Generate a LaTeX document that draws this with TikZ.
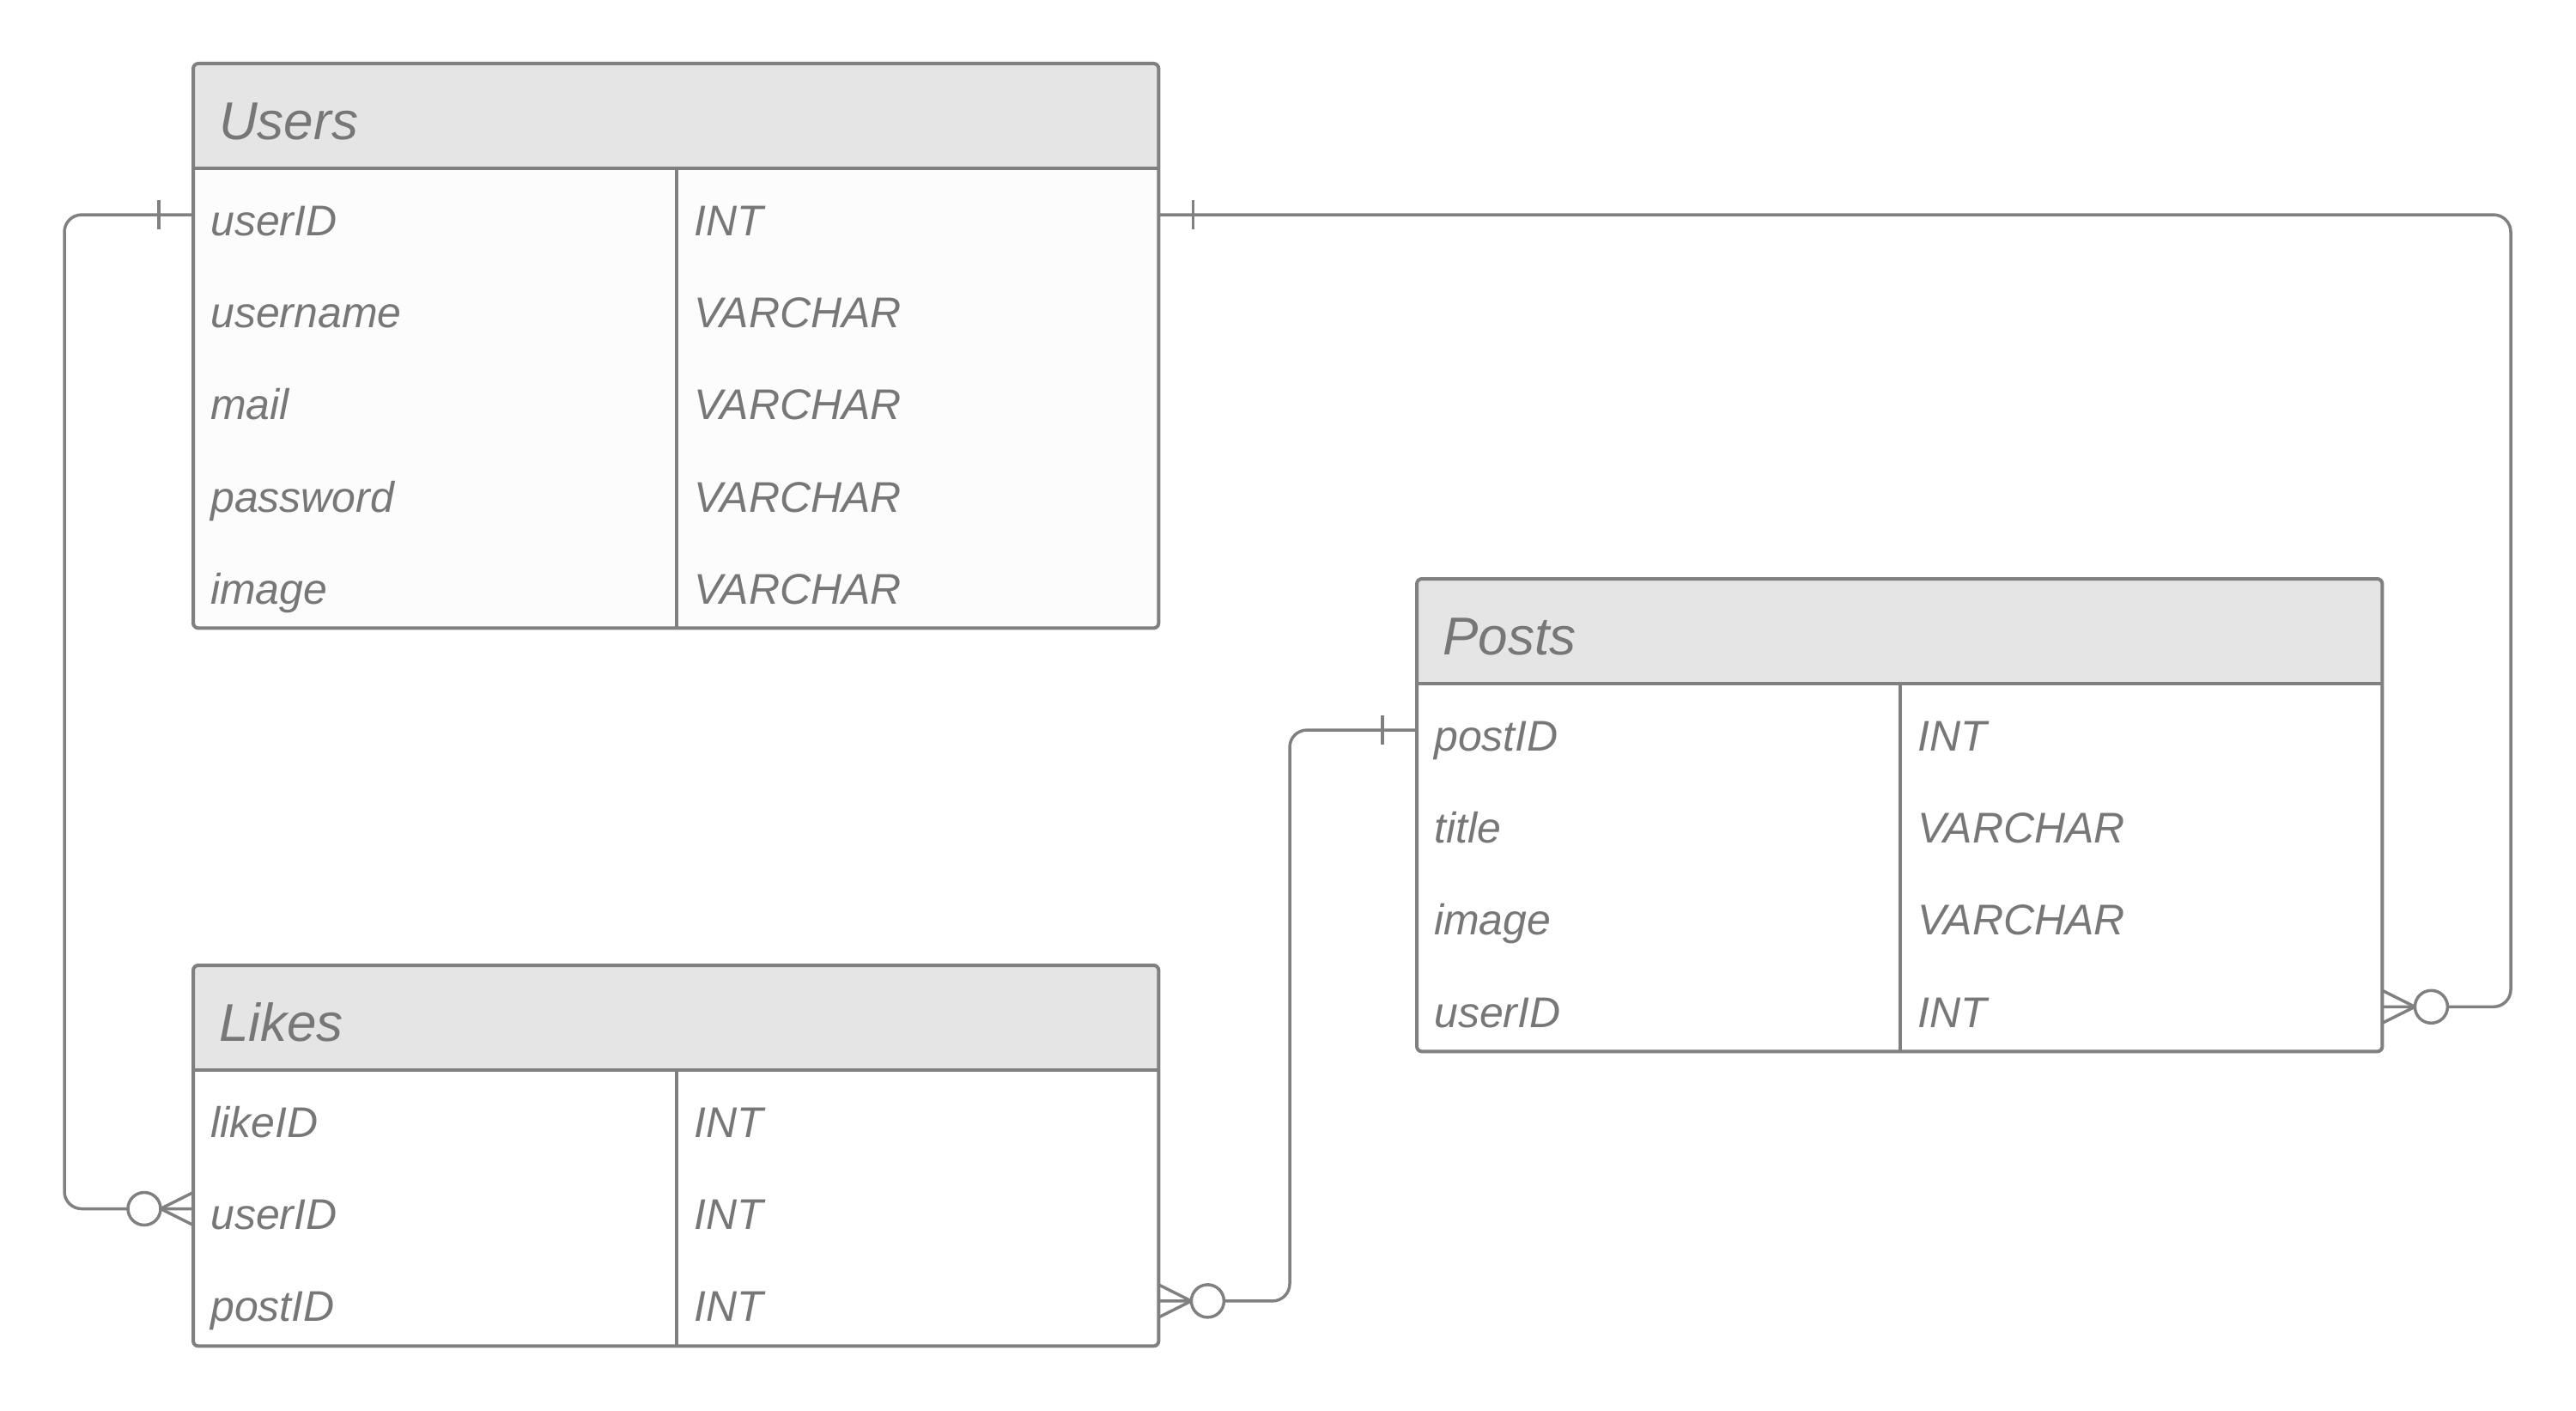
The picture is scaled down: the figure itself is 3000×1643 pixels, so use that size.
\documentclass[tikz,border=0pt]{standalone}
\usepackage{fontspec}
\setmainfont{Liberation Sans}
\definecolor{ln}{HTML}{808080}
\definecolor{tx}{HTML}{777777}
\definecolor{hd}{HTML}{E5E5E5}
\definecolor{bd}{HTML}{FCFCFC}
\tikzset{
  tbl/.style={fill=#1, draw=none, inner sep=0pt, minimum width=1124pt},
  hdr/.style={fill=hd, draw=none, inner sep=0pt, minimum width=1124pt, minimum height=122pt, anchor=north west},
  rowcell/.style={draw=none, inner sep=0pt, minimum width=1124pt, minimum height=107pt, anchor=north west},
  title/.style={text=tx, inner sep=0pt, anchor=base west, font=\fontsize{62}{72}\selectfont\itshape},
  field/.style={text=tx, inner sep=0pt, anchor=base west, font=\fontsize{50}{60}\selectfont\itshape},
  outline/.style={draw=ln, line width=4pt, rounded corners=6pt},
  sep/.style={draw=ln, line width=4pt},
  conn/.style={draw=ln, line width=3.5pt},
}
\begin{document}
\begin{tikzpicture}[x=1pt,y=-1pt]
\useasboundingbox[fill=white] (0,0) rectangle (3000,1643);

% ---------------- Users ----------------
\node[tbl=bd, rounded corners=6pt, minimum height=657pt, anchor=north west] (users) at (225,74) {};
\node[hdr] (usersH) at (225,74) {};
\node[rowcell] (u1) at (usersH.south west) {};
\node[rowcell] (u2) at (u1.south west) {};
\node[rowcell] (u3) at (u2.south west) {};
\node[rowcell] (u4) at (u3.south west) {};
\node[rowcell] (u5) at (u4.south west) {};
\draw[outline] (users.north west) rectangle (users.south east);
\draw[sep] (usersH.south west) -- (usersH.south east);
\draw[sep] ([xshift=563pt]usersH.south west) -- ([xshift=563pt]users.south west);
\node[title] (tU) at ([xshift=30pt,yshift=-27pt]usersH.west) {Users};
\node[field] (u1n) at ([xshift=20pt,yshift=-24pt]u1.west) {userID};
\node[field] (u1t) at ([xshift=583pt,yshift=-24pt]u1.west) {INT};
\node[field] (u2n) at ([xshift=20pt,yshift=-24pt]u2.west) {username};
\node[field] (u2t) at ([xshift=583pt,yshift=-24pt]u2.west) {VARCHAR};
\node[field] (u3n) at ([xshift=20pt,yshift=-24pt]u3.west) {mail};
\node[field] (u3t) at ([xshift=583pt,yshift=-24pt]u3.west) {VARCHAR};
\node[field] (u4n) at ([xshift=20pt,yshift=-24pt]u4.west) {password};
\node[field] (u4t) at ([xshift=583pt,yshift=-24pt]u4.west) {VARCHAR};
\node[field] (u5n) at ([xshift=20pt,yshift=-24pt]u5.west) {image};
\node[field] (u5t) at ([xshift=583pt,yshift=-24pt]u5.west) {VARCHAR};

% ---------------- Posts ----------------
\node[tbl=white, rounded corners=6pt, minimum height=550pt, anchor=north west] (posts) at (1650,674) {};
\node[hdr] (postsH) at (1650,674) {};
\node[rowcell] (p1) at (postsH.south west) {};
\node[rowcell] (p2) at (p1.south west) {};
\node[rowcell] (p3) at (p2.south west) {};
\node[rowcell] (p4) at (p3.south west) {};
\draw[outline] (posts.north west) rectangle (posts.south east);
\draw[sep] (postsH.south west) -- (postsH.south east);
\draw[sep] ([xshift=563pt]postsH.south west) -- ([xshift=563pt]posts.south west);
\node[title] (tP) at ([xshift=30pt,yshift=-27pt]postsH.west) {Posts};
\node[field] (p1n) at ([xshift=20pt,yshift=-24pt]p1.west) {postID};
\node[field] (p1t) at ([xshift=583pt,yshift=-24pt]p1.west) {INT};
\node[field] (p2n) at ([xshift=20pt,yshift=-24pt]p2.west) {title};
\node[field] (p2t) at ([xshift=583pt,yshift=-24pt]p2.west) {VARCHAR};
\node[field] (p3n) at ([xshift=20pt,yshift=-24pt]p3.west) {image};
\node[field] (p3t) at ([xshift=583pt,yshift=-24pt]p3.west) {VARCHAR};
\node[field] (p4n) at ([xshift=20pt,yshift=-24pt]p4.west) {userID};
\node[field] (p4t) at ([xshift=583pt,yshift=-24pt]p4.west) {INT};

% ---------------- Likes ----------------
\node[tbl=white, rounded corners=6pt, minimum height=443pt, anchor=north west] (likes) at (225,1124) {};
\node[hdr] (likesH) at (225,1124) {};
\node[rowcell] (l1) at (likesH.south west) {};
\node[rowcell] (l2) at (l1.south west) {};
\node[rowcell] (l3) at (l2.south west) {};
\draw[outline] (likes.north west) rectangle (likes.south east);
\draw[sep] (likesH.south west) -- (likesH.south east);
\draw[sep] ([xshift=563pt]likesH.south west) -- ([xshift=563pt]likes.south west);
\node[title] (tL) at ([xshift=30pt,yshift=-27pt]likesH.west) {Likes};
\node[field] (l1n) at ([xshift=20pt,yshift=-24pt]l1.west) {likeID};
\node[field] (l1t) at ([xshift=583pt,yshift=-24pt]l1.west) {INT};
\node[field] (l2n) at ([xshift=20pt,yshift=-24pt]l2.west) {userID};
\node[field] (l2t) at ([xshift=583pt,yshift=-24pt]l2.west) {INT};
\node[field] (l3n) at ([xshift=20pt,yshift=-24pt]l3.west) {postID};
\node[field] (l3t) at ([xshift=583pt,yshift=-24pt]l3.west) {INT};

% ---------------- Connectors ----------------
\coordinate (lx) at (75,0);
\coordinate (rx) at (2924,0);
\coordinate (mx) at (1502,0);

% Users.userID -- Likes.userID
\draw[conn, rounded corners=20pt] (l2.west) -- (lx |- l2.west) -- (lx |- u1.west) -- (u1.west);
\draw[conn] ([xshift=-40pt,yshift=17pt]u1.west) -- ([xshift=-40pt,yshift=-17pt]u1.west);
\draw[conn] ([yshift=19pt]l2.west) -- ([xshift=-38pt]l2.west) -- ([yshift=-19pt]l2.west);
\draw[conn, fill=white] ([xshift=-57pt]l2.west) circle (19pt);

% Users.userID -- Posts.userID
\draw[conn, rounded corners=20pt] (u1.east) -- (rx |- u1.east) -- (rx |- p4.east) -- (p4.east);
\draw[conn] ([xshift=40pt,yshift=17pt]u1.east) -- ([xshift=40pt,yshift=-17pt]u1.east);
\draw[conn] ([yshift=19pt]p4.east) -- ([xshift=38pt]p4.east) -- ([yshift=-19pt]p4.east);
\draw[conn, fill=white] ([xshift=57pt]p4.east) circle (19pt);

% Posts.postID -- Likes.postID
\draw[conn, rounded corners=20pt] (l3.east) -- (mx |- l3.east) -- (mx |- p1.west) -- (p1.west);
\draw[conn] ([xshift=-40pt,yshift=17pt]p1.west) -- ([xshift=-40pt,yshift=-17pt]p1.west);
\draw[conn] ([yshift=19pt]l3.east) -- ([xshift=38pt]l3.east) -- ([yshift=-19pt]l3.east);
\draw[conn, fill=white] ([xshift=57pt]l3.east) circle (19pt);
\end{tikzpicture}
\end{document}
